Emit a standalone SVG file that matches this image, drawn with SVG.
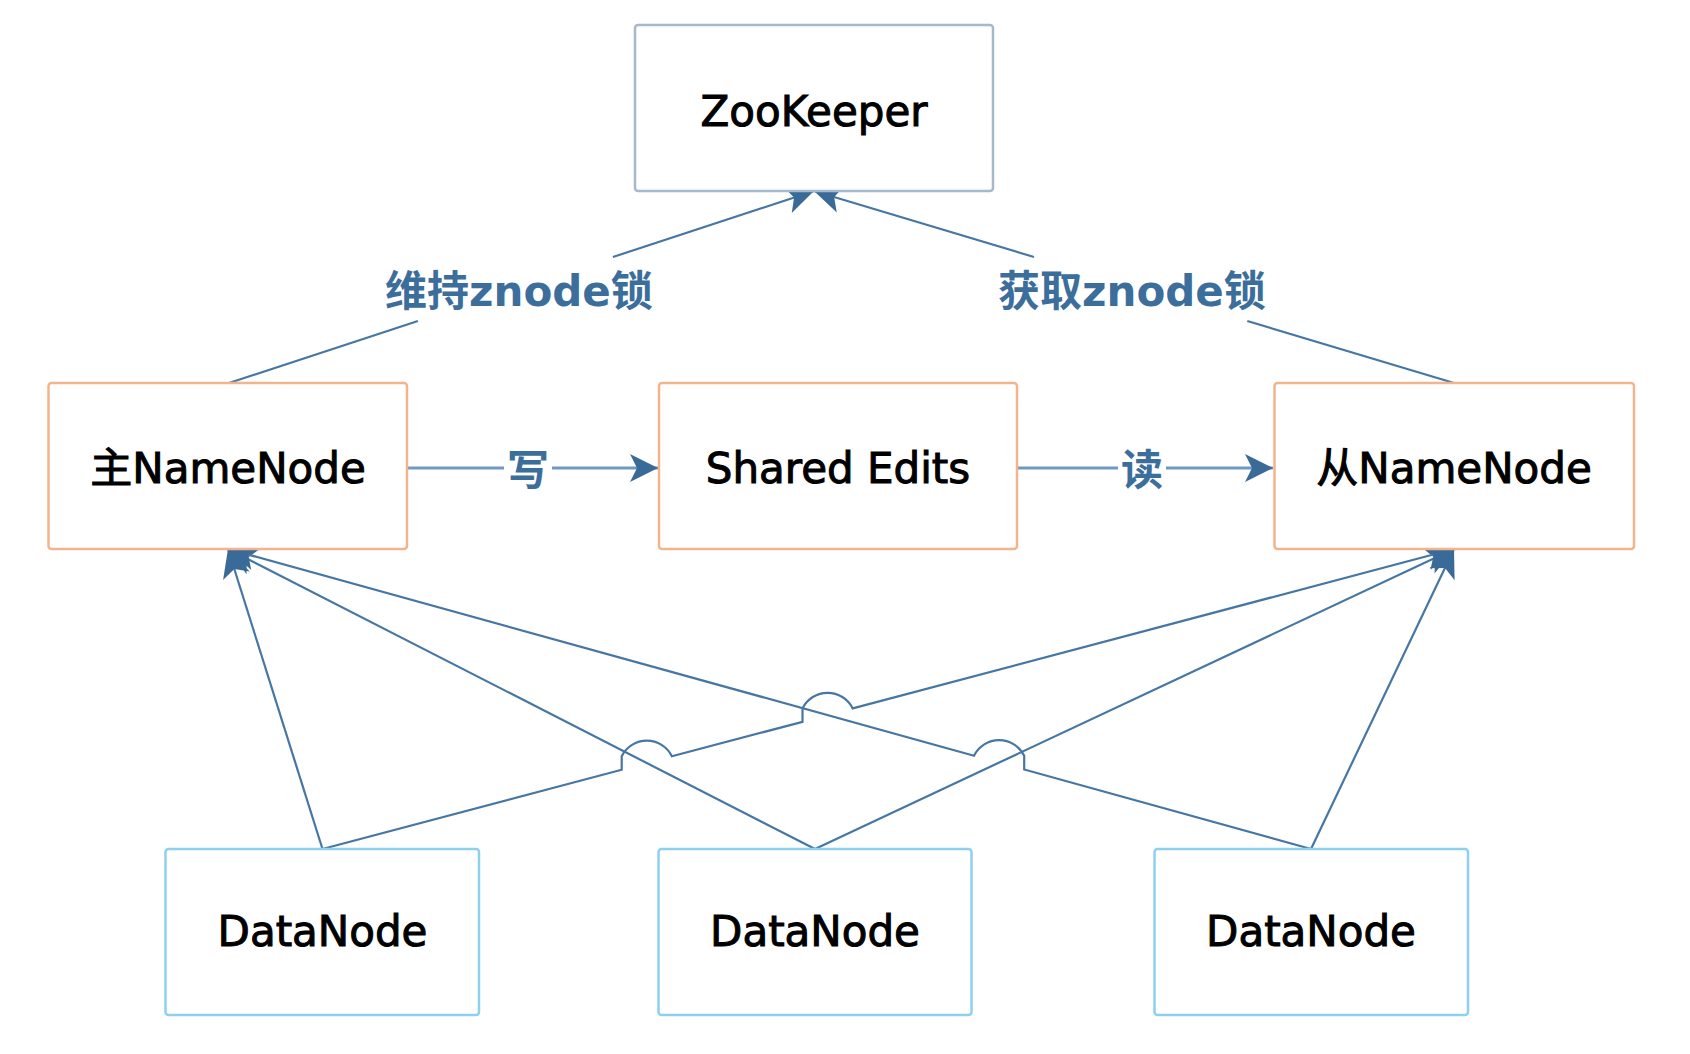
<svg xmlns="http://www.w3.org/2000/svg" width="1690" height="1054" viewBox="0 0 1690 1054">
<defs>
<style>
.box{fill:#ffffff;stroke-width:2.5}
.zk{stroke:#A7B8CD}
.nn{stroke:#F2B48D}
.dn{stroke:#8DD0F0}
.t{font-family:"DejaVu Sans","Noto Sans CJK SC",sans-serif;font-size:42px;fill:#000000;stroke:#000000;stroke-width:1;text-anchor:middle}
.lbl{font-family:"DejaVu Sans","Noto Sans CJK SC",sans-serif;font-size:42px;font-weight:bold;fill:#3C6E9C;text-anchor:middle}
.e{fill:none;stroke:#4677A4;stroke-width:2.2}
.eh{fill:none;stroke:#7199C0;stroke-width:3}
</style>
<marker id="arr" viewBox="-30 -16 32 32" refX="0" refY="0" markerWidth="32" markerHeight="32" orient="auto" markerUnits="userSpaceOnUse">
<path d="M0,0 L-28,-14 L-21,0 L-28,14 Z" fill="#3A6B98"/>
</marker>
</defs>
<rect x="0" y="0" width="1690" height="1054" fill="#ffffff"/>

<g id="connectors">
<path class="e" d="M229,383 L417.9,321 M612.9,257 L814,191" marker-end="url(#arr)"/>
<path class="e" d="M1454,383 L1247.3,321 M1034,257 L814,191" marker-end="url(#arr)"/>
<path class="eh" d="M407,468 L504,468 M552,468 L658,468" marker-end="url(#arr)"/>
<path class="eh" d="M1017,468 L1118,468 M1166,468 L1273,468" marker-end="url(#arr)"/>
<path class="e" d="M322.5,849 L228,549" marker-end="url(#arr)"/>
<path class="e" d="M815,849 L228,549" marker-end="url(#arr)"/>
<path class="e" d="M815,849 L1454,549" marker-end="url(#arr)"/>
<path class="e" d="M1311,849 L1454,549" marker-end="url(#arr)"/>
<path class="e" d="M1311,849 L1024.2,769.5 V755.7 A28,28 0 0 0 974,755.7 L228,549" marker-end="url(#arr)"/>
<path class="e" d="M322.5,849 L621.7,769.7 V756.3 A28,28 0 0 1 671.9,756.3 L802.5,721.8 V708.4 A28,28 0 0 1 852.7,708.4 L1454,549" marker-end="url(#arr)"/>
<text class="lbl" x="519" y="306">维持znode锁</text>
<text class="lbl" x="1132" y="306">获取znode锁</text>
<text class="lbl" x="528" y="485">写</text>
<text class="lbl" x="1142" y="485">读</text>
</g>

<g id="zookeeper">
<rect class="box zk" x="635" y="25" width="358" height="166" rx="3"/>
<text class="t" x="814" y="126">ZooKeeper</text>
</g>
<g id="active-namenode">
<rect class="box nn" x="48.5" y="383" width="358.5" height="166" rx="3"/>
<text class="t" x="228" y="483">主NameNode</text>
</g>
<g id="shared-edits">
<rect class="box nn" x="659" y="383" width="358" height="166" rx="3"/>
<text class="t" x="838" y="483">Shared Edits</text>
</g>
<g id="standby-namenode">
<rect class="box nn" x="1274.5" y="383" width="359.5" height="166" rx="3"/>
<text class="t" x="1454" y="483">从NameNode</text>
</g>
<g id="datanode-1">
<rect class="box dn" x="165.5" y="849" width="313.5" height="166" rx="3"/>
<text class="t" x="322.5" y="946">DataNode</text>
</g>
<g id="datanode-2">
<rect class="box dn" x="658.5" y="849" width="313" height="166" rx="3"/>
<text class="t" x="815" y="946">DataNode</text>
</g>
<g id="datanode-3">
<rect class="box dn" x="1154.5" y="849" width="313.5" height="166" rx="3"/>
<text class="t" x="1311" y="946">DataNode</text>
</g>
</svg>
